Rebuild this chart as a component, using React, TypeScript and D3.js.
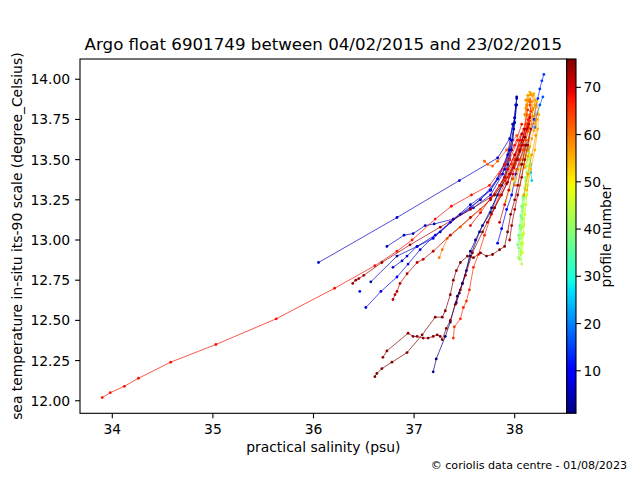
import React, { useRef, useEffect } from 'react';
import * as d3 from 'd3';

// profile numbers (colour) and their salinity / temperature values
const profileNumbers = [1, 2, 4, 5, 6, 7, 8, 9, 10, 14, 17, 25, 37, 40, 42, 44, 46, 47, 55, 56, 57, 58, 59, 60, 61, 62, 63, 64, 65, 66, 67, 68, 69, 70, 71, 72, 73, 74, 75, 76];

const psal01 = [37.19, 37.22, 37.31, 37.36, 37.43, 37.48, 37.56, 37.65, 37.77, 37.87, 37.93, 37.97, 38.00, 38.02];
const temp01 = [12.18, 12.26, 12.40, 12.49, 12.65, 12.73, 12.90, 13.05, 13.20, 13.34, 13.47, 13.62, 13.76, 13.89];
const psal02 = [37.42, 37.45, 37.48, 37.52, 37.56, 37.61, 37.68, 37.76, 37.83, 37.90, 37.95, 37.98, 38.00, 38.02];
const temp02 = [12.61, 12.67, 12.73, 12.81, 12.93, 13.00, 13.09, 13.17, 13.28, 13.37, 13.50, 13.62, 13.73, 13.84];
const psal04 = [36.57, 36.83, 37.03, 37.26, 37.46, 37.66, 37.83, 37.93, 37.98];
const temp04 = [12.74, 12.90, 12.96, 13.05, 13.16, 13.25, 13.38, 13.53, 13.72];
const psal05 = [36.73, 36.90, 36.99, 37.11, 37.20, 37.39, 37.56, 37.76, 37.90, 37.97, 37.99, 38.01];
const temp05 = [12.96, 13.03, 13.04, 13.09, 13.10, 13.13, 13.22, 13.31, 13.44, 13.56, 13.69, 13.84];
const psal06 = [36.05, 36.83, 37.45, 37.83, 37.95, 38.00, 38.02];
const temp06 = [12.86, 13.14, 13.37, 13.51, 13.63, 13.76, 13.88];
const psal07 = [36.79, 36.88, 36.93, 37.03, 37.19, 37.39, 37.59, 37.76, 37.88, 37.95];
const temp07 = [12.83, 12.87, 12.90, 12.96, 13.01, 13.13, 13.20, 13.28, 13.41, 13.56];
const psal08 = [36.52, 36.67, 36.83, 36.94, 37.06, 37.21, 37.36, 37.56, 37.76, 37.90, 37.97];
const temp08 = [12.58, 12.68, 12.77, 12.85, 12.94, 13.03, 13.11, 13.20, 13.31, 13.47, 13.62];
const psal09 = [36.46];
const temp09 = [12.68];
const psal10 = [37.83, 37.87, 37.92, 37.97, 38.01, 38.05, 38.13, 38.20];
const temp10 = [12.98, 13.07, 13.19, 13.28, 13.41, 13.50, 13.62, 13.75];
const psal14 = [38.19, 38.21, 38.23, 38.25, 38.27, 38.29];
const temp14 = [13.75, 13.83, 13.88, 13.94, 13.99, 14.03];
const psal17 = [38.20, 38.22, 38.25, 38.28];
const temp17 = [13.70, 13.78, 13.84, 13.89];
const psal25 = [38.17, 38.16, 38.16, 38.15, 38.14];
const temp25 = [13.37, 13.42, 13.47, 13.52, 13.57];
const psal37 = [38.03, 38.04, 38.05, 38.06, 38.07, 38.08];
const temp37 = [12.97, 13.03, 13.09, 13.15, 13.21, 13.27];
const psal40 = [38.04, 38.04, 38.05, 38.06, 38.07, 38.08, 38.09, 38.10, 38.11];
const temp40 = [12.89, 12.95, 13.01, 13.07, 13.14, 13.20, 13.26, 13.32, 13.39];
const psal42 = [38.05, 38.06, 38.06, 38.07, 38.07, 38.08, 38.08, 38.09, 38.10, 38.10, 38.11, 38.12, 38.12, 38.13, 38.14];
const temp42 = [12.88, 12.93, 12.98, 13.03, 13.08, 13.13, 13.18, 13.22, 13.27, 13.32, 13.37, 13.42, 13.46, 13.50, 13.55];
const psal44 = [38.07, 38.06, 38.07, 38.08, 38.09, 38.10, 38.11, 38.12, 38.13, 38.14, 38.15, 38.15];
const temp44 = [12.85, 12.91, 12.97, 13.03, 13.09, 13.16, 13.22, 13.28, 13.34, 13.41, 13.47, 13.53];
const psal46 = [38.08, 38.08, 38.09, 38.09, 38.10, 38.11, 38.12, 38.12, 38.13, 38.14, 38.15];
const temp46 = [12.92, 12.98, 13.04, 13.10, 13.16, 13.22, 13.28, 13.34, 13.40, 13.46, 13.52];
const psal47 = [37.91, 37.95, 37.99, 38.05, 38.10];
const temp47 = [13.24, 13.31, 13.37, 13.44, 13.53];
const psal55 = [38.12, 38.16, 38.20, 38.23, 38.24, 38.22, 38.19, 38.15];
const temp55 = [13.31, 13.44, 13.56, 13.69, 13.78, 13.86, 13.91, 13.92];
const psal56 = [38.10, 38.13, 38.15, 38.17, 38.19, 38.20, 38.21, 38.21, 38.20, 38.18, 38.16, 38.14, 38.12, 38.11, 38.12];
const temp56 = [13.45, 13.52, 13.58, 13.63, 13.68, 13.73, 13.78, 13.83, 13.87, 13.90, 13.91, 13.90, 13.87, 13.82, 13.77];
const psal57 = [38.09, 38.13, 38.17, 38.21, 38.22, 38.20, 38.17, 38.13, 38.11];
const temp57 = [13.28, 13.41, 13.53, 13.65, 13.75, 13.84, 13.90, 13.90, 13.87];
const psal58 = [38.08, 38.11, 38.13, 38.15, 38.17, 38.18, 38.18, 38.17, 38.15, 38.13, 38.12, 38.12];
const temp58 = [13.50, 13.56, 13.62, 13.67, 13.72, 13.77, 13.82, 13.86, 13.88, 13.87, 13.83, 13.78];
const psal59 = [38.05, 38.09, 38.13, 38.16, 38.18, 38.15, 38.12, 38.10, 38.11];
const temp59 = [13.34, 13.47, 13.56, 13.69, 13.81, 13.87, 13.84, 13.78, 13.72];
const psal60 = [37.25, 37.28, 37.33, 37.46, 37.66, 37.80, 37.90, 38.00];
const temp60 = [12.89, 12.94, 13.01, 13.08, 13.19, 13.28, 13.37, 13.47];
const psal61 = [38.00, 38.05, 38.10, 38.14, 38.16, 38.15];
const temp61 = [13.34, 13.47, 13.59, 13.70, 13.80, 13.86];
const psal62 = [37.70, 37.73, 37.78, 37.83, 37.92, 38.02];
const temp62 = [13.49, 13.47, 13.46, 13.49, 13.56, 13.65];
const psal63 = [37.95, 38.01, 38.07, 38.12, 38.15];
const temp63 = [13.41, 13.50, 13.62, 13.72, 13.78];
const psal64 = [37.98, 38.02, 38.05, 38.08, 38.11, 38.13, 38.15, 38.16, 38.15];
const temp64 = [13.38, 13.44, 13.50, 13.56, 13.62, 13.68, 13.74, 13.80, 13.84];
const psal65 = [37.90, 37.97, 38.05, 38.11, 38.15];
const temp65 = [13.37, 13.47, 13.59, 13.69, 13.77];
const psal66 = [37.39, 37.40, 37.46, 37.49, 37.52, 37.55, 37.59, 37.64, 37.70, 37.77, 37.85, 37.93, 38.00, 38.05, 38.13];
const temp66 = [12.39, 12.46, 12.51, 12.58, 12.62, 12.69, 12.83, 12.91, 13.03, 13.16, 13.28, 13.39, 13.50, 13.62, 13.75];
const psal67 = [37.85, 37.95, 38.03, 38.09, 38.13];
const temp67 = [13.41, 13.50, 13.62, 13.69, 13.81];
const psal68 = [33.90, 33.98, 34.12, 34.26, 34.58, 35.03, 35.63, 36.21, 36.61, 36.83, 36.98, 37.21, 37.37, 37.57, 37.75, 37.90, 38.00, 38.07];
const temp68 = [12.02, 12.05, 12.09, 12.14, 12.24, 12.35, 12.51, 12.70, 12.84, 12.93, 13.00, 13.13, 13.21, 13.28, 13.34, 13.47, 13.59, 13.72];
const psal69 = [37.56, 37.66, 37.76, 37.85, 37.93, 38.00, 38.07, 38.13];
const temp69 = [13.09, 13.17, 13.26, 13.34, 13.44, 13.53, 13.62, 13.70];
const psal70 = [37.85, 37.90, 37.94, 37.98, 38.03, 38.08, 38.12, 38.15];
const temp70 = [13.11, 13.22, 13.31, 13.41, 13.50, 13.59, 13.69, 13.76];
const psal71 = [37.73, 37.80, 37.87, 37.93, 37.99, 38.05, 38.10, 38.14];
const temp71 = [13.11, 13.20, 13.28, 13.36, 13.45, 13.55, 13.64, 13.72];
const psal72 = [36.79, 36.81, 36.83, 36.86, 36.93, 37.03, 37.09, 37.19, 37.36, 37.56, 37.76, 37.90, 38.00, 38.07];
const temp72 = [12.63, 12.66, 12.68, 12.73, 12.79, 12.86, 12.88, 12.93, 13.03, 13.14, 13.25, 13.39, 13.53, 13.66];
const psal73 = [37.95, 37.97, 38.00, 38.03, 38.07, 38.10, 38.13, 38.16];
const temp73 = [13.00, 13.09, 13.19, 13.28, 13.39, 13.50, 13.59, 13.69];
const psal74 = [36.39, 36.42, 36.45, 36.50, 36.68, 36.96, 37.26, 37.56, 37.80, 37.95, 38.05, 38.10];
const temp74 = [12.73, 12.75, 12.76, 12.78, 12.86, 12.97, 13.08, 13.19, 13.28, 13.41, 13.56, 13.69];
const psal75 = [36.69, 36.73, 36.94, 36.99, 37.03, 37.09, 37.14, 37.19, 37.23, 37.26, 37.28, 37.32, 37.36, 37.41, 37.46, 37.51, 37.58, 37.68, 37.80, 37.92, 38.02, 38.10];
const temp75 = [12.27, 12.31, 12.42, 12.40, 12.40, 12.39, 12.39, 12.40, 12.41, 12.40, 12.38, 12.45, 12.50, 12.60, 12.69, 12.78, 12.92, 13.05, 13.20, 13.35, 13.50, 13.64];
const psal76 = [36.61, 36.63, 36.68, 36.78, 36.93, 37.08, 37.21, 37.28, 37.31, 37.36, 37.39, 37.42, 37.46, 37.53, 37.59, 37.66, 37.72, 37.78, 37.85, 37.90, 37.93, 37.96, 38.00, 38.03, 38.07, 38.11];
const temp76 = [12.15, 12.17, 12.20, 12.24, 12.30, 12.41, 12.52, 12.52, 12.56, 12.66, 12.75, 12.81, 12.86, 12.90, 12.89, 12.92, 12.90, 12.91, 12.94, 12.96, 13.05, 13.16, 13.25, 13.34, 13.47, 13.59];

const psalList = [psal01, psal02, psal04, psal05, psal06, psal07, psal08, psal09, psal10, psal14, psal17, psal25, psal37, psal40, psal42, psal44, psal46, psal47, psal55, psal56, psal57, psal58, psal59, psal60, psal61, psal62, psal63, psal64, psal65, psal66, psal67, psal68, psal69, psal70, psal71, psal72, psal73, psal74, psal75, psal76];
const tempList = [temp01, temp02, temp04, temp05, temp06, temp07, temp08, temp09, temp10, temp14, temp17, temp25, temp37, temp40, temp42, temp44, temp46, temp47, temp55, temp56, temp57, temp58, temp59, temp60, temp61, temp62, temp63, temp64, temp65, temp66, temp67, temp68, temp69, temp70, temp71, temp72, temp73, temp74, temp75, temp76];

const xTicks = [34, 35, 36, 37, 38];
const yTicks = [12.0, 12.25, 12.5, 12.75, 13.0, 13.25, 13.5, 13.75, 14.0];
const cTicks = [10, 20, 30, 40, 50, 60, 70];
const profileRange = [1, 76];

// matplotlib "jet"
const jetR = d3.scaleLinear([0, 0.35, 0.66, 0.89, 1], [0, 0, 1, 1, 0.5]).clamp(true);
const jetG = d3.scaleLinear([0, 0.125, 0.375, 0.64, 0.91, 1], [0, 0, 1, 1, 0, 0]).clamp(true);
const jetB = d3.scaleLinear([0, 0.11, 0.34, 0.65, 1], [0.5, 1, 1, 0, 0]).clamp(true);
const jet = (t: number) => d3.rgb(255 * jetR(t), 255 * jetG(t), 255 * jetB(t)).formatHex();

const FONT = 'DejaVu Sans';

export default function App() {
  const svgRef = useRef<SVGSVGElement>(null);

  useEffect(() => {
    const svg = d3.select(svgRef.current);
    svg.selectAll('*').remove();

    const left = 80, right = 566.7, top = 59, bottom = 413.3;
    const cbLeft = 566.7, cbRight = 576;

    const x = d3.scaleLinear().domain([33.679, 38.517]).range([left, right]);
    const y = d3.scaleLinear().domain([11.922, 14.126]).range([bottom, top]);
    const cy = d3.scaleLinear().domain(profileRange).range([bottom, top]);
    const norm = d3.scaleLinear().domain(profileRange).range([0, 1]);

    svg.append('rect').attr('width', 640).attr('height', 480).attr('fill', '#fff');

    const defs = svg.append('defs');
    defs.append('clipPath').attr('id', 'plot-clip')
      .append('rect').attr('x', left).attr('y', top)
      .attr('width', right - left).attr('height', bottom - top);

    const grad = defs.append('linearGradient').attr('id', 'jet-grad')
      .attr('x1', 0).attr('y1', 1).attr('x2', 0).attr('y2', 0);
    d3.range(0, 1.0001, 0.01).forEach(t => {
      grad.append('stop').attr('offset', `${t * 100}%`).attr('stop-color', jet(t));
    });

    const profiles = profileNumbers.map((n, i) => ({
      n,
      pts: psalList[i].map((s, j) => [s, tempList[i][j]] as [number, number]),
    })).sort((a, b) => a.n - b.n);

    const line = d3.line<[number, number]>().x(d => x(d[0])).y(d => y(d[1]));

    const g = svg.append('g').attr('clip-path', 'url(#plot-clip)');
    profiles.forEach(p => {
      const c = jet(norm(p.n));
      g.append('path').datum(p.pts)
        .attr('fill', 'none').attr('stroke', c).attr('stroke-width', 0.7)
        .attr('d', line);
      g.selectAll(null).data(p.pts).enter().append('circle')
        .attr('cx', d => x(d[0])).attr('cy', d => y(d[1]))
        .attr('r', 1.4).attr('fill', c);
    });

    // frame
    svg.append('rect').attr('x', left).attr('y', top)
      .attr('width', right - left).attr('height', bottom - top)
      .attr('fill', 'none').attr('stroke', '#000').attr('stroke-width', 1.1);

    // x axis
    const xa = svg.append('g').attr('font-family', FONT).attr('font-size', 13.9);
    xTicks.forEach(t => {
      xa.append('line').attr('x1', x(t)).attr('x2', x(t))
        .attr('y1', bottom).attr('y2', bottom + 4.9).attr('stroke', '#000').attr('stroke-width', 1.1);
      xa.append('text').attr('x', x(t)).attr('y', bottom + 20.4)
        .attr('text-anchor', 'middle').attr('fill', '#000').text(d3.format('d')(t));
    });
    xa.append('text').attr('x', (left + right) / 2).attr('y', 452)
      .attr('text-anchor', 'middle').attr('fill', '#000').text('practical salinity (psu)');

    // y axis
    const ya = svg.append('g').attr('font-family', FONT).attr('font-size', 13.9);
    yTicks.forEach(t => {
      ya.append('line').attr('x1', left - 4.9).attr('x2', left)
        .attr('y1', y(t)).attr('y2', y(t)).attr('stroke', '#000').attr('stroke-width', 1.1);
      ya.append('text').attr('x', left - 9.8).attr('y', y(t)).attr('dy', '0.36em')
        .attr('text-anchor', 'end').attr('fill', '#000').text(d3.format('.2f')(t));
    });
    ya.append('text')
      .attr('transform', `translate(22,${(top + bottom) / 2}) rotate(-90)`)
      .attr('text-anchor', 'middle').attr('fill', '#000')
      .text('sea temperature in-situ its-90 scale (degree_Celsius)');

    // colour bar
    svg.append('rect').attr('x', cbLeft).attr('y', top)
      .attr('width', cbRight - cbLeft).attr('height', bottom - top)
      .attr('fill', 'url(#jet-grad)').attr('stroke', '#000').attr('stroke-width', 1.1);
    const ca = svg.append('g').attr('font-family', FONT).attr('font-size', 13.9);
    cTicks.forEach(t => {
      ca.append('line').attr('x1', cbRight).attr('x2', cbRight + 4.9)
        .attr('y1', cy(t)).attr('y2', cy(t)).attr('stroke', '#000').attr('stroke-width', 1.1);
      ca.append('text').attr('x', cbRight + 7.5).attr('y', cy(t)).attr('dy', '0.36em')
        .attr('fill', '#000').text(t);
    });
    ca.append('text')
      .attr('transform', `translate(611,${(top + bottom) / 2}) rotate(-90)`)
      .attr('text-anchor', 'middle').attr('fill', '#000').text('profile number');

    // title and credit
    svg.append('text').attr('x', (left + right) / 2).attr('y', 50)
      .attr('text-anchor', 'middle').attr('font-family', FONT).attr('font-size', 16.67)
      .attr('fill', '#000').text('Argo float 6901749 between 04/02/2015 and 23/02/2015');
    svg.append('text').attr('x', 627).attr('y', 469)
      .attr('text-anchor', 'end').attr('font-family', FONT).attr('font-size', 11.1)
      .attr('fill', '#000').text('© coriolis data centre - 01/08/2023');
  }, []);

  return (
    <svg
      ref={svgRef}
      width={640}
      height={480}
      style={{ position: 'absolute', left: 0, top: 0, display: 'block' }}
    ></svg>
  );
}
